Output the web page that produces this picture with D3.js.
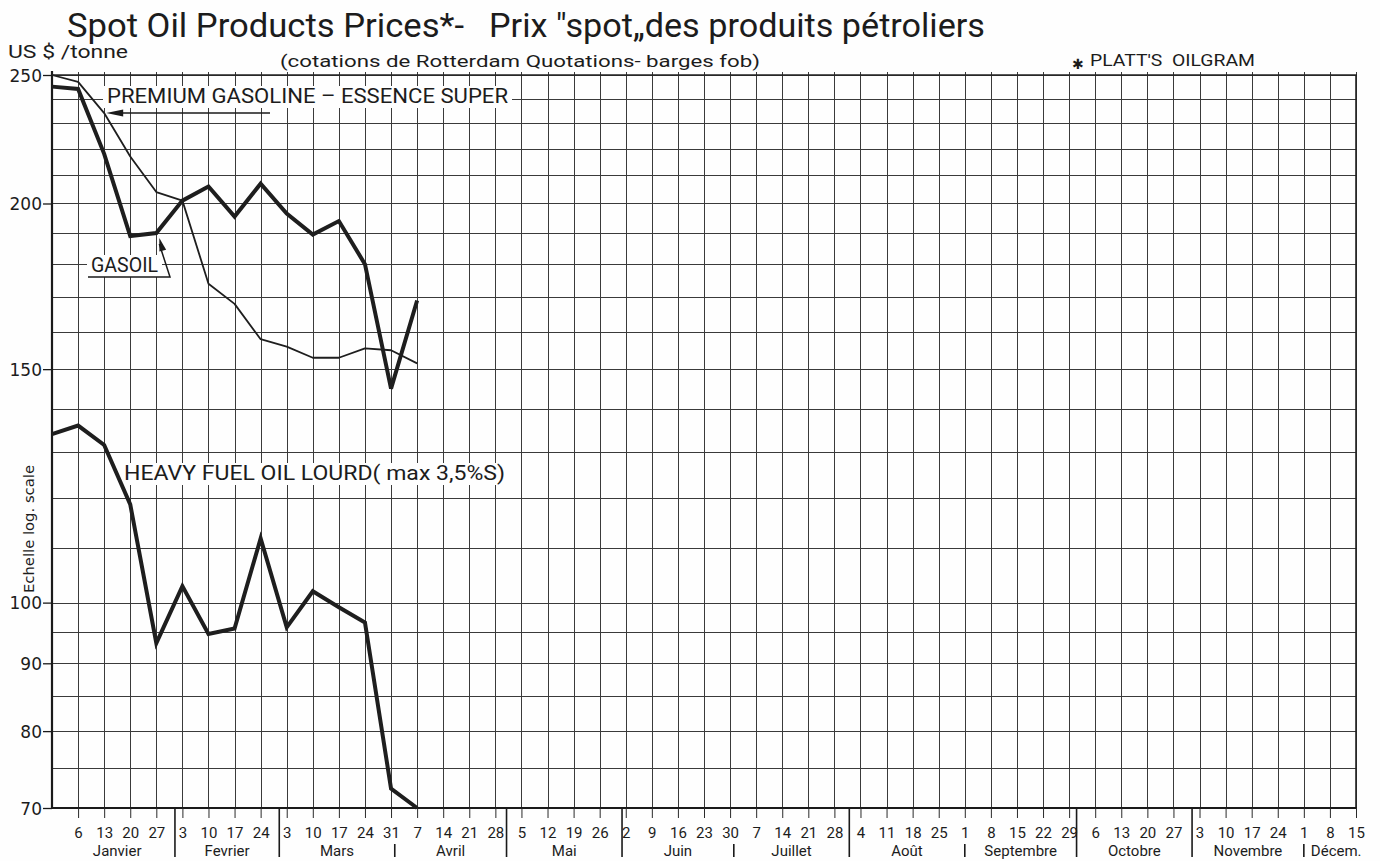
<!DOCTYPE html>
<html><head><meta charset="utf-8">
<script src="https://cdn.jsdelivr.net/npm/d3@7"></script>
<style>
html,body{margin:0;padding:0;background:#fff;}
svg{display:block;}
text{fill:#1c1c1c;}
</style></head><body>
<svg id="chart" width="1380" height="861"></svg>
<script>
// ---------- data ----------
const weekDates = ["1985-12-30","1986-01-06","1986-01-13","1986-01-20","1986-01-27",
  "1986-02-03","1986-02-10","1986-02-17","1986-02-24","1986-03-03","1986-03-10",
  "1986-03-17","1986-03-24","1986-03-31","1986-04-07"];
const gasoil          = [245, 244, 218, 189, 190, 201, 206, 195.5, 207, 196.5, 189.5, 194, 180, 145, 169];
const premiumGasoline = [250, 247, 234, 217, 204, 201, 174, 168, 158, 156, 153, 153, 155.5, 155, 151.5];
const heavyFuelOil    = [134, 136, 131.5, 118.6, 93.2, 102.9, 94.7, 95.6, 111.8, 95.8, 102, 99.2, 96.6, 72.4, 70];
const axisStartDate = "1985-12-30";
const axisEndDate   = "1986-12-15";
const monthNames = ["Janvier","Fevrier","Mars","Avril","Mai","Juin","Juillet","Août","Septembre","Octobre","Novembre","Décem."];
const yLabelValues = [70, 80, 90, 100, 150, 200, 250];
const yGridValues  = [70,75,80,85,90,95,100,110,120,130,140,150,160,170,180,190,200,210,220,230,240,250];
const titleLeft  = "Spot Oil Products Prices*-";
const titleRight = "Prix \"spot\u201Edes produits pétroliers";
const subtitle   = "(cotations de Rotterdam Quotations- barges fob)";
const sourceNote = "PLATT'S  OILGRAM";
const unitLabel  = "US $ /tonne";
const scaleLabel = "Echelle log. scale";
const labelPremium = "PREMIUM GASOLINE \u2013 ESSENCE SUPER";
const labelGasoil  = "GASOIL";
const labelHFO     = "HEAVY FUEL OIL LOURD( max 3,5%S)";

// ---------- setup ----------
const svg = d3.select("#chart");
const FONT = "Roboto, 'DejaVu Sans', sans-serif";
const parse = d3.utcParse("%Y-%m-%d");
const weeks = weekDates.map(parse);
const d0 = parse(axisStartDate), d1 = parse(axisEndDate);
const L = 52, R = 1356, T = 75, B = 808;

const x = d3.scaleUtc().domain([d0, d1]).range([L, R]);
const y = d3.scaleLog().domain([70, 250]).range([B, T]);
const gridWeeks = d3.utcMonday.range(d0, d3.utcDay.offset(d1, 1));

svg.append("rect").attr("width",1380).attr("height",861).attr("fill","#fefefe");

// ---------- grid ----------
const grid = svg.append("g").attr("stroke","#3a3a3a").attr("stroke-width",1).attr("shape-rendering","crispEdges");
grid.selectAll("line.h").data(yGridValues).join("line")
  .attr("x1",L).attr("x2",R).attr("y1",d=>Math.round(y(d))+0.5).attr("y2",d=>Math.round(y(d))+0.5);
grid.selectAll("line.v").data(gridWeeks).join("line")
  .attr("x1",d=>Math.round(x(d))+0.5).attr("x2",d=>Math.round(x(d))+0.5).attr("y1",T-3).attr("y2",B);

// borders / axes
svg.append("line").attr("x1",L).attr("x2",R+1).attr("y1",T).attr("y2",T).attr("stroke","#222").attr("stroke-width",1.6);
svg.append("line").attr("x1",R).attr("x2",R).attr("y1",T).attr("y2",B).attr("stroke","#222").attr("stroke-width",1.6);

// y axis
const yAxis = svg.append("g").attr("transform",`translate(${L},0)`)
  .call(d3.axisLeft(y).tickValues(yLabelValues).tickFormat(d3.format("d")).tickSize(9).tickPadding(1));
yAxis.select(".domain").attr("stroke","#1a1a1a").attr("stroke-width",2.2).attr("d",`M0,${T-4}V${B}`);
yAxis.selectAll(".tick line").attr("stroke","#1a1a1a").attr("stroke-width",1.3);
yAxis.selectAll(".tick text").attr("font-family","'DejaVu Sans', sans-serif").attr("font-size",17)
  .attr("fill","#1c1c1c").attr("dy","0.36em");

// x axis
const xAxis = svg.append("g").attr("transform",`translate(0,${B})`)
  .call(d3.axisBottom(x).tickValues(gridWeeks.slice(1)).tickFormat(d3.utcFormat("%-d")).tickSize(10).tickPadding(12));
xAxis.select(".domain").attr("stroke","#1a1a1a").attr("stroke-width",1.8).attr("d",`M${L},0H${R+1}`);
xAxis.selectAll(".tick line").attr("stroke","#2a2a2a").attr("stroke-width",1);
xAxis.selectAll(".tick text").attr("font-family",FONT).attr("font-size",15).attr("fill","#1c1c1c")
  .attr("y",30).attr("dy",null);

// month dividers and names
const DAY = 86400000;
const monthStarts = monthNames.map((m,i)=>new Date(Date.UTC(1986,i,1)));
monthStarts.slice(1).forEach(ms=>{
  const short = gridWeeks.some(t=>{const dd = ms - t; return dd>=0 && dd<=DAY;});
  const xx = x(ms);
  svg.append("line").attr("x1",xx).attr("x2",xx)
    .attr("y1", short ? 844 : B).attr("y2", 857)
    .attr("stroke","#1a1a1a").attr("stroke-width",1.6);
});
monthNames.forEach((name,i)=>{
  const s = new Date(Math.max(monthStarts[i], d0));
  const e = new Date(Math.min(i<11 ? monthStarts[i+1] : Date.UTC(1987,0,1), d1));
  const span = x(e) - x(s);
  const t = svg.append("text").attr("y",856).attr("font-family",FONT).attr("font-size",15).text(name);
  if (span < 70) t.attr("x", x(s)+7).attr("text-anchor","start");
  else t.attr("x",(x(s)+x(e))/2).attr("text-anchor","middle");
});

// ---------- titles ----------
svg.append("text").attr("x",67).attr("y",37).attr("font-family",FONT).attr("font-size",33)
  .attr("textLength",397).attr("lengthAdjust","spacingAndGlyphs").text(titleLeft);
svg.append("text").attr("x",489).attr("y",37).attr("font-family",FONT).attr("font-size",33)
  .attr("textLength",496).attr("lengthAdjust","spacingAndGlyphs").text(titleRight);
svg.append("text").attr("x",8).attr("y",58).attr("font-family",FONT).attr("font-size",18)
  .attr("textLength",120).attr("lengthAdjust","spacingAndGlyphs").text(unitLabel);
svg.append("text").attr("x",280).attr("y",67).attr("font-family",FONT).attr("font-size",17)
  .attr("textLength",480).attr("lengthAdjust","spacingAndGlyphs").text(subtitle);
svg.append("text").attr("x",1072).attr("y",69).attr("font-family","'DejaVu Sans', sans-serif").attr("font-size",14).text("\u2731");
svg.append("text").attr("x",1090).attr("y",66).attr("font-family",FONT).attr("font-size",16.5)
  .attr("textLength",165).attr("lengthAdjust","spacingAndGlyphs").style("white-space","pre").text(sourceNote);
svg.append("text").attr("transform","translate(34,529) rotate(-90)").attr("text-anchor","middle")
  .attr("font-family","'DejaVu Sans', sans-serif").attr("font-size",14)
  .attr("textLength",128).attr("lengthAdjust","spacingAndGlyphs").text(scaleLabel);

// ---------- series labels with white masks ----------
function maskedLabel(txt, x0, base, size, len){
  svg.append("rect").attr("x",x0-4).attr("y",base-size*0.85).attr("width",len+8).attr("height",size*1.1).attr("fill","#fefefe");
  svg.append("text").attr("x",x0).attr("y",base).attr("font-family",FONT).attr("font-size",size)
    .attr("textLength",len).attr("lengthAdjust","spacingAndGlyphs").text(txt);
}
maskedLabel(labelPremium, 107, 103, 20, 401);
maskedLabel(labelGasoil, 91, 272, 20, 67);
maskedLabel(labelHFO, 124, 480, 20, 381);

// arrows
function arrowHead(tx, ty, fx, fy, len, half){
  const a = Math.atan2(ty-fy, tx-fx);
  const bx = tx - len*Math.cos(a), by = ty - len*Math.sin(a);
  const px = -Math.sin(a)*half, py = Math.cos(a)*half;
  svg.append("path").attr("d",`M${tx},${ty}L${bx+px},${by+py}L${bx-px},${by-py}Z`).attr("fill","#1a1a1a");
}
// premium arrow
const pTipX = x(weeks[2]) + 2, pTipY = y(premiumGasoline[2]);
svg.append("line").attr("x1",270).attr("x2",pTipX+6).attr("y1",pTipY).attr("y2",pTipY).attr("stroke","#1a1a1a").attr("stroke-width",1.5);
arrowHead(pTipX, pTipY, 270, pTipY, 17, 3.5);
// gasoil leader arrow
const gTipX = x(weeks[4]) + 3, gTipY = y(gasoil[4]) + 5;
svg.append("path").attr("d",`M88,277H170L${gTipX},${gTipY+6}`).attr("fill","none").attr("stroke","#1a1a1a").attr("stroke-width",1.5);
arrowHead(gTipX, gTipY, 170, 277, 13, 3.5);

// ---------- series ----------
const line = d3.line().x((d,i)=>x(weeks[i])).y(d=>y(d));
svg.append("path").datum(premiumGasoline).attr("d",line).attr("fill","none")
  .attr("stroke","#1e1e1e").attr("stroke-width",1.8).attr("stroke-linejoin","round");
svg.append("path").datum(gasoil).attr("d",line).attr("fill","none")
  .attr("stroke","#1e1e1e").attr("stroke-width",4).attr("stroke-linejoin","miter");
svg.append("path").datum(heavyFuelOil).attr("d",line).attr("fill","none")
  .attr("stroke","#1e1e1e").attr("stroke-width",4).attr("stroke-linejoin","miter");
</script>
</body></html>
